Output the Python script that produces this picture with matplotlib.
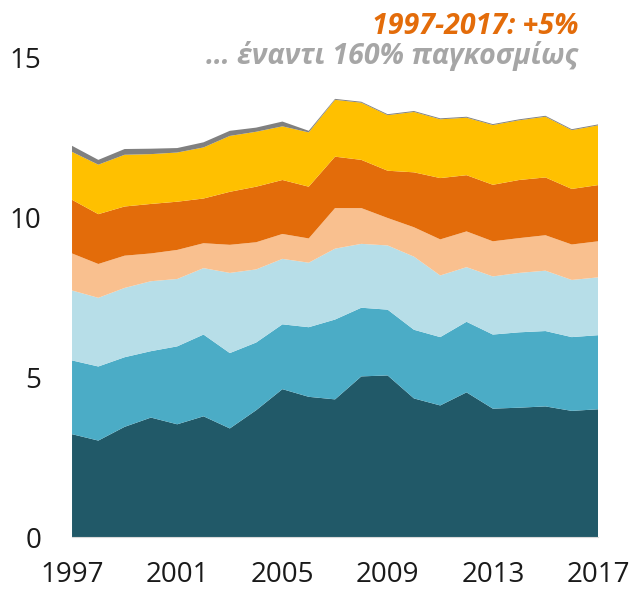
import numpy as np
import matplotlib
matplotlib.use('Agg')
import matplotlib.pyplot as plt

plt.rcParams['font.family'] = ['Open Sans', 'DejaVu Sans']

years = list(range(1997, 2018))

# cumulative tops, converted to layer thicknesses below
top_dark = [3.22, 3.02, 3.45, 3.74, 3.53, 3.78, 3.40, 3.97, 4.63, 4.39, 4.31,
            5.03, 5.06, 4.34, 4.12, 4.53, 4.02, 4.05, 4.09, 3.95, 4.00]
top_mid = [5.53, 5.34, 5.63, 5.82, 5.97, 6.34, 5.76, 6.09, 6.66, 6.57, 6.81,
           7.18, 7.12, 6.49, 6.26, 6.74, 6.34, 6.41, 6.45, 6.26, 6.32]
top_light = [7.72, 7.49, 7.80, 8.01, 8.08, 8.42, 8.27, 8.38, 8.71, 8.59, 9.03,
             9.18, 9.13, 8.78, 8.19, 8.45, 8.16, 8.27, 8.34, 8.05, 8.13]
top_peach = [8.88, 8.55, 8.81, 8.88, 8.99, 9.20, 9.15, 9.23, 9.49, 9.35, 10.30,
             10.30, 9.99, 9.70, 9.32, 9.57, 9.26, 9.36, 9.45, 9.16, 9.26]
top_orange = [10.56, 10.11, 10.35, 10.43, 10.50, 10.60, 10.81, 10.97, 11.18, 10.97, 11.91,
              11.81, 11.47, 11.42, 11.24, 11.33, 11.03, 11.18, 11.26, 10.90, 11.02]
top_yellow = [12.06, 11.66, 11.97, 11.99, 12.04, 12.20, 12.56, 12.69, 12.86, 12.67, 13.69,
              13.60, 13.21, 13.31, 13.08, 13.13, 12.90, 13.05, 13.16, 12.74, 12.89]
gray = [0.19, 0.15, 0.18, 0.17, 0.14, 0.16, 0.16, 0.13, 0.15, 0.05, 0.03,
        0.03, 0.03, 0.03, 0.03, 0.03, 0.03, 0.03, 0.03, 0.03, 0.03]

tops = np.array([top_dark, top_mid, top_light, top_peach, top_orange, top_yellow])
layers = np.vstack([tops[0], np.diff(tops, axis=0), gray])
colors = ['#215968', '#4BACC6', '#B7DEE8', '#F9C08F', '#E36C0A', '#FFC000', '#808080']

fig = plt.figure(figsize=(6.34, 5.93), dpi=100)
ax = fig.add_axes([0.1136, 0.0944, 0.8297, 0.8078])

ax.stackplot(years, layers, colors=colors, linewidth=0)

ax.set_xlim(1997, 2017)
ax.set_ylim(0, 15)
ax.set_xticks([1997, 2001, 2005, 2009, 2013, 2017])
ax.set_yticks([0, 5, 10, 15])
ax.tick_params(length=0, labelsize=20, colors='#1a1a1a')
ax.tick_params(axis='x', pad=17)
ax.tick_params(axis='y', pad=22)
for s in ['top', 'right', 'left']:
    ax.spines[s].set_visible(False)
ax.spines['bottom'].set_color('#D9D9D9')

fig.text(0.912, 0.955, '1997-2017: +5%', ha='right', va='center',
         fontsize=20.5, fontweight='bold', fontstyle='italic', color='#E36C0A')
fig.text(0.912, 0.906, '… έναντι 160% παγκοσμίως', ha='right', va='center',
         fontsize=20.5, fontweight='bold', fontstyle='italic', color='#A6A6A6')

fig.savefig('out.png', dpi=100)
